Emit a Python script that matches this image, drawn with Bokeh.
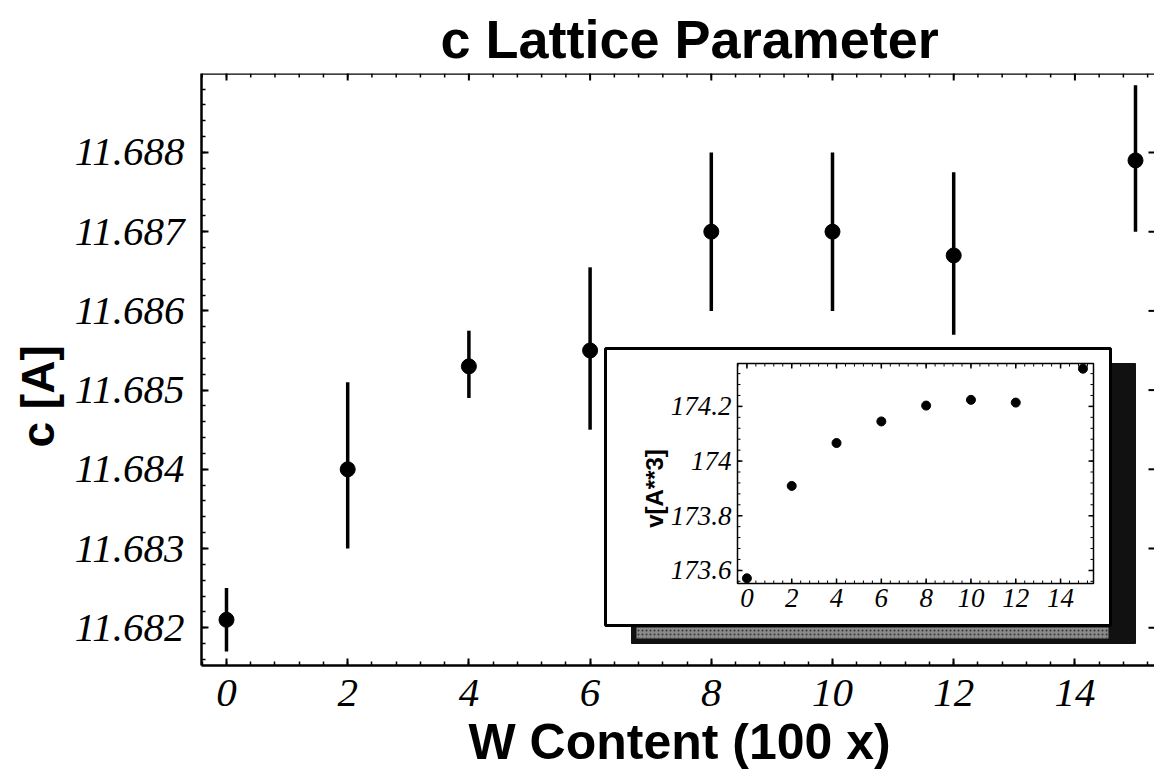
from bokeh.plotting import figure
from bokeh.models import (Range1d, LinearAxis, Title, Span, FixedTicker,
                          PrintfTickFormatter)
from bokeh.core.properties import value
from bokeh.embed import file_html
from bokeh.resources import INLINE
import numpy as np

# ---------------- data ----------------
w_content = [0, 2, 4, 6, 8, 10, 12, 15]
c_values = [11.6821, 11.6840, 11.6853, 11.6855, 11.6870, 11.6870, 11.6867, 11.6879]
c_low = [11.6817, 11.6830, 11.6849, 11.6845, 11.6860, 11.6860, 11.6857, 11.6870]
c_high = [11.6825, 11.6851, 11.68575, 11.68655, 11.6880, 11.6880, 11.68775, 11.68885]

v_values = [173.571, 173.909, 174.066, 174.145, 174.203, 174.224, 174.214, 174.338]

main_x_ticks = [0, 2, 4, 6, 8, 10, 12, 14]
main_y_ticks = [11.682, 11.683, 11.684, 11.685, 11.686, 11.687, 11.688]
inset_x_ticks = [0, 2, 4, 6, 8, 10, 12, 14]
inset_x_labels = ["0", "2", "4", "6", "8", "10", "12", "14"]
inset_y_ticks = [173.6, 173.8, 174.0, 174.2]
inset_y_labels = ["173.6", "173.8", "174", "174.2"]

title_text = "c Lattice Parameter"
x_label = "W Content (100 x)"
y_label = "c [A]"
inset_y_label = "v[A**3]"

# ---------------- layout geometry (pixels) ----------------
W, H = 1154, 781
FL, FR, FT, FB = 201, 1154, 73, 665          # main frame
IL, IR, IT, IB = 737, 1093, 363, 583         # inset frame
inset_xr = (-0.42, 15.47)
inset_yr = (173.552, 174.357)

x_main = (-0.4125, (FR - 226) / 60.6)
y_main = (11.681523, 11.688997)
xpp = (x_main[1] - x_main[0]) / (FR - FL)
ypp = (y_main[1] - y_main[0]) / (FB - FT)

# extend inset ranges over the whole main frame
sx = (inset_xr[1] - inset_xr[0]) / (IR - IL)
sy = (inset_yr[1] - inset_yr[0]) / (IB - IT)
ext_x = (inset_xr[0] + (FL - IL) * sx, inset_xr[0] + (FR - IL) * sx)
ext_y = (inset_yr[0] - (FB - IB) * sy, inset_yr[0] + (IB - FT) * sy)

def ix(px):
    return inset_xr[0] + (px - IL) * sx

def iy(py):
    return inset_yr[0] + (IB - py) * sy

serif_it = "Liberation Serif"
sans = "Liberation Sans"

p = figure(width=W, height=H, output_backend="svg", toolbar_location=None,
           x_range=Range1d(*x_main), y_range=Range1d(*y_main),
           x_axis_location=None, y_axis_location=None,
           min_border_left=FL, min_border_right=W - FR,
           min_border_top=FT, min_border_bottom=H - FB)
p.extra_x_ranges = {"ix": Range1d(*ext_x)}
p.extra_y_ranges = {"iy": Range1d(*ext_y)}
p.outline_line_color = None
p.grid.visible = False
p.background_fill_color = "white"
p.border_fill_color = "white"

x_minor = [round(v, 2) for v in np.arange(-0.4, 15.4, 0.4)]
y_minor = [round(11.6816 + 0.0002 * k, 4) for k in range(37)]

def style_axis(ax):
    ax.axis_line_width = 2.5
    ax.axis_line_color = "black"
    ax.major_tick_in = 7
    ax.major_tick_out = 0
    ax.minor_tick_in = 4
    ax.minor_tick_out = 0
    ax.major_tick_line_width = 2
    ax.minor_tick_line_width = 1.5
    ax.major_tick_line_color = "black"
    ax.minor_tick_line_color = "black"
    ax.major_label_text_font = serif_it
    ax.major_label_text_font_style = "italic"
    ax.major_label_text_font_size = "41px"
    ax.major_label_text_color = "black"

xb = LinearAxis(ticker=FixedTicker(ticks=main_x_ticks, minor_ticks=x_minor),
                formatter=PrintfTickFormatter(format="%d"))
style_axis(xb)
xb.major_label_standoff = 14
p.add_layout(xb, "below")

yl = LinearAxis(ticker=FixedTicker(ticks=main_y_ticks, minor_ticks=y_minor),
                formatter=PrintfTickFormatter(format="%.3f"))
style_axis(yl)
yl.major_label_standoff = 17
p.add_layout(yl, "left")

# top frame line with inward ticks, and right-edge ticks
p.add_layout(Span(location=y_main[1], dimension="width", line_color="black",
                  line_width=2.5))
x_minor_in = [v for v in x_minor if x_main[0] < v < x_main[1]]
p.segment(x0=main_x_ticks, y0=[y_main[1]] * len(main_x_ticks),
          x1=main_x_ticks, y1=[y_main[1] - 7 * ypp] * len(main_x_ticks),
          line_color="black", line_width=2)
p.segment(x0=x_minor_in, y0=[y_main[1]] * len(x_minor_in),
          x1=x_minor_in, y1=[y_main[1] - 4 * ypp] * len(x_minor_in),
          line_color="black", line_width=1.5)
p.segment(x0=[x_main[1]] * len(main_y_ticks), y0=main_y_ticks,
          x1=[x_main[1] - 6 * xpp] * len(main_y_ticks), y1=main_y_ticks,
          line_color="black", line_width=2)

# titles / axis labels
p.add_layout(Title(text=title_text, text_font=sans, text_font_style="bold",
                   text_font_size="54px", text_color="black",
                   vertical_align="bottom",
                   align="left", offset=440 - FL, standoff=10), "above")
p.add_layout(Title(text=x_label, text_font=sans, text_font_style="bold",
                   text_font_size="50px", text_color="black",
                   align="left", offset=468 - FL, standoff=6), "below")
p.add_layout(Title(text=y_label, text_font=sans, text_font_style="bold",
                   text_font_size="46px", text_color="black",
                   align="left", offset=218, standoff=16), "left")

# ---------------- main data ----------------
p.segment(x0=w_content, y0=c_low, x1=w_content, y1=c_high,
          line_color="black", line_width=3.5)
p.scatter(x=w_content, y=c_values, size=15, marker="circle",
          fill_color="black", line_color="black")

# ---------------- inset ----------------
R = dict(x_range_name="ix", y_range_name="iy")
# shadow
p.quad(left=ix(631), right=ix(1135), top=iy(363), bottom=iy(643),
       fill_color="#111111", line_color="#111111", **R)
p.quad(left=ix(636), right=ix(1108), top=iy(627), bottom=iy(638),
       fill_color="#8a8a8a", line_color=None, hatch_pattern="dot",
       hatch_color="#333333", hatch_scale=4, **R)
# white box
p.quad(left=ix(605), right=ix(1110), top=iy(348), bottom=iy(625),
       fill_color="white", line_color="black", line_width=3, **R)
# inset frame
p.quad(left=inset_xr[0], right=inset_xr[1], top=inset_yr[1], bottom=inset_yr[0],
       fill_color=None, line_color="black", line_width=1.5, **R)

# inset ticks
tick_major_x = 5 * sy
tick_minor_x = 3 * sy
tick_major_y = 5 * sx
tick_minor_y = 3 * sx
xmin_i = [round(v, 2) for v in np.arange(-0.4, 15.4, 0.4)]
ymin_i = [round(173.56 + 0.04 * k, 2) for k in range(20)]
ymin_i = [v for v in ymin_i if inset_yr[0] < v < inset_yr[1]]

p.segment(x0=inset_x_ticks, y0=[inset_yr[0]] * len(inset_x_ticks),
          x1=inset_x_ticks, y1=[inset_yr[0] + tick_major_x] * len(inset_x_ticks),
          line_color="black", line_width=1.5, **R)
p.segment(x0=inset_x_ticks, y0=[inset_yr[1]] * len(inset_x_ticks),
          x1=inset_x_ticks, y1=[inset_yr[1] - tick_major_x] * len(inset_x_ticks),
          line_color="black", line_width=1.5, **R)
p.segment(x0=xmin_i, y0=[inset_yr[0]] * len(xmin_i),
          x1=xmin_i, y1=[inset_yr[0] + tick_minor_x] * len(xmin_i),
          line_color="black", line_width=1, **R)
p.segment(x0=xmin_i, y0=[inset_yr[1]] * len(xmin_i),
          x1=xmin_i, y1=[inset_yr[1] - tick_minor_x] * len(xmin_i),
          line_color="black", line_width=1, **R)
p.segment(x0=[inset_xr[0]] * len(inset_y_ticks), y0=inset_y_ticks,
          x1=[inset_xr[0] + tick_major_y] * len(inset_y_ticks), y1=inset_y_ticks,
          line_color="black", line_width=1.5, **R)
p.segment(x0=[inset_xr[1]] * len(inset_y_ticks), y0=inset_y_ticks,
          x1=[inset_xr[1] - tick_major_y] * len(inset_y_ticks), y1=inset_y_ticks,
          line_color="black", line_width=1.5, **R)
p.segment(x0=[inset_xr[0]] * len(ymin_i), y0=ymin_i,
          x1=[inset_xr[0] + tick_minor_y] * len(ymin_i), y1=ymin_i,
          line_color="black", line_width=1, **R)
p.segment(x0=[inset_xr[1]] * len(ymin_i), y0=ymin_i,
          x1=[inset_xr[1] - tick_minor_y] * len(ymin_i), y1=ymin_i,
          line_color="black", line_width=1, **R)

# inset tick labels
p.text(x=inset_x_ticks, y=[iy(IB + 5)] * len(inset_x_ticks), text=inset_x_labels,
       text_font=value(serif_it), text_font_style="italic", text_font_size="27px",
       text_align="center", text_baseline="top", text_color="black", **R)
p.text(x=[ix(IL - 6)] * len(inset_y_ticks), y=inset_y_ticks, text=inset_y_labels,
       text_font=value(serif_it), text_font_style="italic", text_font_size="27px",
       text_align="right", text_baseline="middle", text_color="black", **R)
p.text(x=[ix(654)], y=[iy(488)], text=[inset_y_label], angle=np.pi / 2,
       text_font=value(sans), text_font_style="bold", text_font_size="24px",
       text_align="center", text_baseline="middle", text_color="black", **R)

# inset points
p.scatter(x=w_content, y=v_values, size=9, marker="circle",
          fill_color="black", line_color="black", **R)

open("out.html", "w").write(file_html(p, INLINE))
